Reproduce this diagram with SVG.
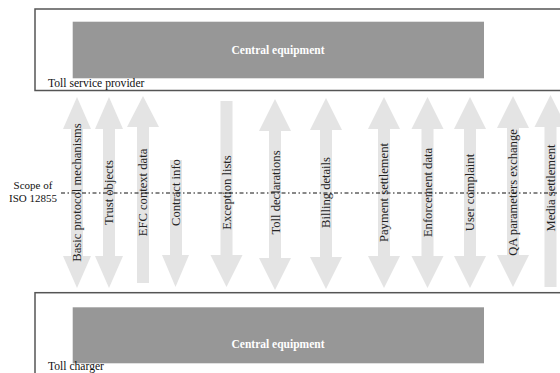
<svg xmlns="http://www.w3.org/2000/svg" xmlns:xlink="http://www.w3.org/1999/xlink" width="560" height="373" viewBox="0 0 560 373">
  <style>
    .frame { fill: #ffffff; stroke: #555555; stroke-width: 1.5; }
    .ce { fill: #979797; }
    .ce-label { font-family: "Liberation Serif", "Times New Roman", serif; font-size: 11.5px; font-weight: bold; fill: #ffffff; text-anchor: middle; }
    .owner { font-family: "Liberation Serif", "Times New Roman", serif; font-size: 11.6px; fill: #111111; }
    .arrow { fill: #e4e4e4; }
    .lbl { font-family: "Liberation Serif", "Times New Roman", serif; font-size: 12.6px; fill: #222222; text-anchor: middle; }
    .scope { font-family: "Liberation Serif", "Times New Roman", serif; font-size: 11px; fill: #111111; text-anchor: middle; }
    .scope-line { fill: none; stroke: #111111; stroke-width: 1; stroke-dasharray: 4 2.5 1.5 2.5; }
  </style>
  <defs>
    <path id="dbl" d="M0,97 L16,129 L6,129 L6,256 L16,256 L0,288 L-16,256 L-6,256 L-6,129 L-16,129 Z"/>
    <path id="dblN" d="M0,97 L14,129 L6,129 L6,256 L14,256 L0,288 L-14,256 L-6,256 L-6,129 L-14,129 Z"/>
  </defs>

  <g id="toll-service-provider">
    <rect class="frame" x="35" y="9" width="540" height="81.5"/>
    <g id="central-equipment-top">
      <rect class="ce" x="72.7" y="21.7" width="411.3" height="56.6"/>
      <text class="ce-label" x="278" y="54">Central equipment</text>
    </g>
    <text class="owner" x="48" y="87.3">Toll service provider</text>
  </g>

  <g id="toll-charger">
    <rect class="frame" x="35" y="292.7" width="540" height="100"/>
    <g id="central-equipment-bottom">
      <rect class="ce" x="72.7" y="307.3" width="411.3" height="56"/>
      <text class="ce-label" x="278" y="348">Central equipment</text>
    </g>
    <text class="owner" x="48" y="370">Toll charger</text>
  </g>

  <g id="connectors">
    <g id="basic-protocol-mechanisms">
      <use href="#dblN" x="77" y="0" class="arrow"/>
      <text class="lbl" transform="translate(81,192.5) rotate(-90)">Basic protocol mechanisms</text>
    </g>
    <g id="trust-objects">
      <use href="#dblN" x="109" y="0" class="arrow"/>
      <text class="lbl" transform="translate(113,192.5) rotate(-90)">Trust objects</text>
    </g>
    <g id="efc-context-data">
      <path class="arrow" d="M143,96 L159,127 L149,127 L149,283 L137,283 L137,127 L127,127 Z"/>
      <text class="lbl" transform="translate(147,192.5) rotate(-90)">EFC context data</text>
    </g>
    <g id="contract-info">
      <path class="arrow" d="M170,160 L182,160 L182,255 L189,255 L175.5,287 L162,255 L170,255 Z"/>
      <text class="lbl" transform="translate(180,192.5) rotate(-90)">Contract info</text>
    </g>
    <g id="exception-lists">
      <path class="arrow" d="M220.5,101 L232.5,101 L232.5,255 L242.5,255 L226.5,287 L210.5,255 L220.5,255 Z"/>
      <text class="lbl" transform="translate(230.5,192.5) rotate(-90)">Exception lists</text>
    </g>
    <g id="toll-declarations">
      <use href="#dbl" x="275" y="2" class="arrow"/>
      <text class="lbl" transform="translate(279.5,192.5) rotate(-90)">Toll declarations</text>
    </g>
    <g id="billing-details">
      <use href="#dbl" x="326" y="1" class="arrow"/>
      <text class="lbl" transform="translate(330,192.5) rotate(-90)">Billing details</text>
    </g>
    <g id="payment-settlement">
      <use href="#dbl" x="384" y="0" class="arrow"/>
      <text class="lbl" transform="translate(388,192.5) rotate(-90)">Payment settlement</text>
    </g>
    <g id="enforcement-data">
      <use href="#dbl" x="427.5" y="0" class="arrow"/>
      <text class="lbl" transform="translate(431.5,192.5) rotate(-90)">Enforcement data</text>
    </g>
    <g id="user-complaint">
      <use href="#dbl" x="470" y="0" class="arrow"/>
      <text class="lbl" transform="translate(474,192.5) rotate(-90)">User complaint</text>
    </g>
    <g id="qa-parameters-exchange">
      <use href="#dbl" x="513" y="-1" class="arrow"/>
      <text class="lbl" transform="translate(517,192.5) rotate(-90)">QA parameters exchange</text>
    </g>
    <g id="media-settlement">
      <path class="arrow" d="M550.5,95 L566.5,127 L556.5,127 L556.5,287 L544.5,287 L544.5,127 L534.5,127 Z"/>
      <text class="lbl" transform="translate(554.5,188) rotate(-90)">Media settlement</text>
    </g>
    <line id="scope-line" class="scope-line" x1="61" y1="193" x2="557" y2="193"/>
  </g>

  <g id="scope-label">
    <text class="scope" x="33" y="188.5">Scope of</text>
    <text class="scope" x="33" y="201.5">ISO 12855</text>
  </g>
</svg>
